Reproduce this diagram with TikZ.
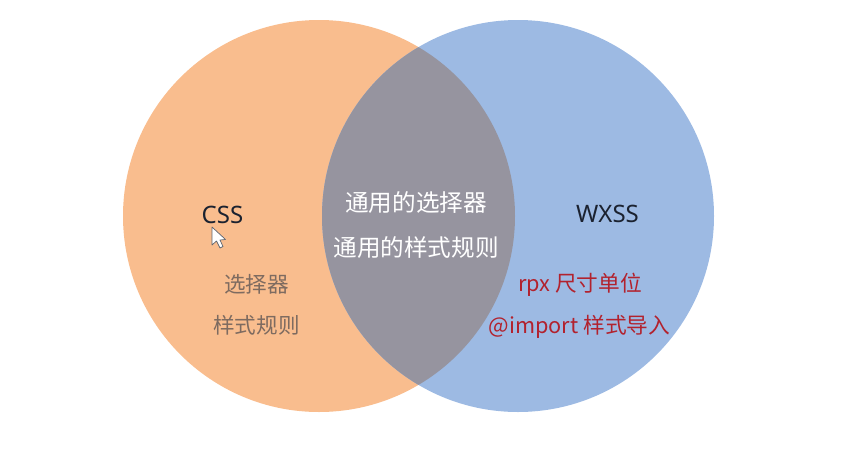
\documentclass[tikz,border=0pt]{standalone}
\usepackage{fontspec}
\setmainfont{Noto Sans}
\newfontfamily\cjk{Noto Sans CJK SC}
\definecolor{MonOrange}{HTML}{F9BD8E}
\definecolor{MonBleu}{HTML}{9DBAE3}
\definecolor{MonGris}{HTML}{96949F}
\definecolor{MonRouge}{HTML}{B2222E}
\definecolor{MonBrun}{HTML}{7E6B60}
\definecolor{MonNoir}{HTML}{1B2230}
\begin{document}
\begin{tikzpicture}[x=1pt, y=-1pt]

      \tikzstyle{Rond}=[circle, draw=none, minimum size=392pt, inner sep=0pt];
      \tikzstyle{Titre}=[text=MonNoir, font=\fontsize{24}{26}\selectfont];
      \tikzstyle{Gris}=[text=MonBrun, font=\cjk\fontsize{21.6}{24}\selectfont];
      \tikzstyle{Blanc}=[text=white, font=\cjk\fontsize{23.6}{26}\selectfont];
      \tikzstyle{Rouge}=[text=MonRouge, font=\cjk\fontsize{21.7}{24}\selectfont];

      \useasboundingbox (0, 0) rectangle (865, 448);

        \node[Rond, fill=MonOrange](Css) at (319, 216) {};
        \node[Rond, fill=MonBleu](Wxss) at (518, 216) {};

        % the part shared by both circles
        \begin{scope}
          \clip (319, 216) circle (196);
          \fill[MonGris] (518, 216) circle (196);
        \end{scope}

        \node[Titre](CssTitre) at (222.5, 215) {CSS};
        \node[Titre](WxssTitre) at (607.5, 214) {WXSS};

        \node[Gris](CssUn) at (256.5, 284) {选择器};
        \node[Gris](CssDeux) at (256.5, 325) {样式规则};

        \node[Blanc](MemeUn) at (416, 203) {通用的选择器};
        \node[Blanc](MemeDeux) at (416, 248) {通用的样式规则};

        \node[Rouge](WxssUn) at (580, 285) {rpx 尺寸单位};
        \node[Rouge](WxssDeux) at (579.5, 327) {@import 样式导入};

        % mouse pointer
        \draw[fill=white, draw=MonNoir!70, line width=0.7pt, line join=round]
          (212, 227) -- (212, 245) -- (216.5, 241) -- (220, 248) -- (223, 246.5)
          -- (220, 240) -- (225.5, 239.5) -- cycle;

    \end{tikzpicture}
\end{document}
